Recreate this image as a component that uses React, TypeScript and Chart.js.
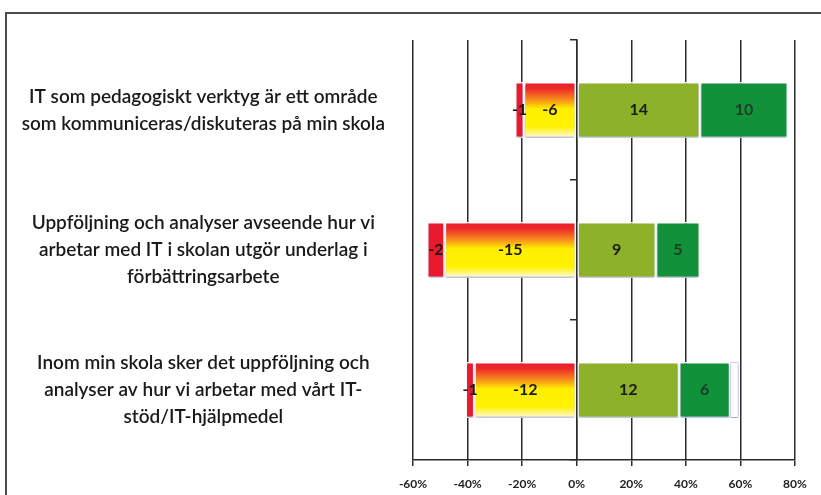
import React, { useEffect, useRef } from "react";
import { Chart, registerables } from "chart.js";
Chart.register(...registerables);

const categories = [
  ["IT som pedagogiskt verktyg är ett område", "som kommuniceras/diskuteras på min skola"],
  ["Uppföljning och analyser avseende hur vi", "arbetar med IT i skolan utgör underlag i", "förbättringsarbete"],
  ["Inom min skola sker det uppföljning och", "analyser av hur vi arbetar med vårt IT-", "stöd/IT-hjälpmedel"],
];
const disagree = [-6, -15, -12];
const stronglyDisagree = [-1, -2, -1];
const agree = [14, 9, 12];
const stronglyAgree = [10, 5, 6];
const dontKnow = [0, 0, 1];
const xTickValues = [-60, -40, -20, 0, 20, 40, 60, 80];

const seriesCounts = [disagree, stronglyDisagree, agree, stronglyAgree, dontKnow];
const totals = categories.map((_, i) =>
  seriesCounts.reduce((s, arr) => s + Math.abs(arr[i]), 0)
);
const toPct = (arr: number[]) => arr.map((v, i) => (v / totals[i]) * 100);

const BAR_PCT = 0.4;
const FONT = "Lato, 'Open Sans', sans-serif";

function yellowGradient(ctx: any) {
  const chart = ctx.chart;
  const ys = chart.scales && chart.scales.y;
  if (!ys || ctx.dataIndex == null || !chart.chartArea) return "#FFF200";
  const yc = ys.getPixelForValue(ctx.dataIndex);
  const half = ((ys.bottom - ys.top) / categories.length) * BAR_PCT / 2;
  const g = chart.ctx.createLinearGradient(0, yc - half, 0, yc + half);
  g.addColorStop(0, "#E8192C");
  g.addColorStop(0.12, "#EC2A26");
  g.addColorStop(0.3, "#F6851E");
  g.addColorStop(0.48, "#FFEF00");
  g.addColorStop(0.8, "#FFF200");
  g.addColorStop(1, "#FFFBEA");
  return g;
}

const labelColors = ["#1a1a1a", "#1a1a1a", "#1a1a1a", "#1e3a22", null];

const shadowPlugin = {
  id: "barShadow",
  beforeDatasetsDraw(chart: any) {
    const c = chart.ctx;
    c.save();
    c.shadowColor = "rgba(70,80,150,0.35)";
    c.shadowOffsetY = 2;
    c.shadowOffsetX = 0;
    c.shadowBlur = 2;
  },
  afterDatasetsDraw(chart: any) {
    chart.ctx.restore();
  },
};

const labelPlugin = {
  id: "segLabels",
  afterDatasetsDraw(chart: any) {
    const c = chart.ctx;
    chart.data.datasets.forEach((ds: any, di: number) => {
      const color = labelColors[di];
      if (!color) return;
      const meta = chart.getDatasetMeta(di);
      meta.data.forEach((el: any, i: number) => {
        const count = seriesCounts[di][i];
        if (!count) return;
        const { x, base, y } = el.getProps(["x", "base", "y"], true);
        c.save();
        c.font = `bold 16px ${FONT}`;
        c.fillStyle = color;
        c.textAlign = "center";
        c.textBaseline = "middle";
        c.fillText(String(count), (x + base) / 2, y);
        c.restore();
      });
    });
  },
};

export default function App() {
  const ref = useRef<HTMLCanvasElement>(null);
  useEffect(() => {
    if (!ref.current) return;
    const common = {
      borderColor: "#ffffff",
      borderWidth: 1.5,
      borderSkipped: false,
      barPercentage: BAR_PCT,
      categoryPercentage: 1,
      stack: "s",
    };
    const chart = new Chart(ref.current, {
      type: "bar",
      data: {
        labels: categories as any,
        datasets: [
          { label: "Instämmer inte", data: toPct(disagree), backgroundColor: yellowGradient, ...common },
          { label: "Instämmer inte alls", data: toPct(stronglyDisagree), backgroundColor: "#E8192C", ...common },
          { label: "Instämmer", data: toPct(agree), backgroundColor: "#8DB22A", ...common },
          { label: "Instämmer helt", data: toPct(stronglyAgree), backgroundColor: "#11923A", ...common },
          { label: "Vet ej", data: toPct(dontKnow), backgroundColor: "#FFFFFF", ...common, borderColor: "#E3C6EA", borderWidth: 1 },
        ] as any,
      },
      options: {
        indexAxis: "y",
        animation: false,
        responsive: true,
        maintainAspectRatio: false,
        layout: { padding: { left: 0, right: 26, top: 40, bottom: 0 } },
        plugins: { legend: { display: false }, tooltip: { enabled: false } },
        scales: {
          x: {
            type: "linear",
            min: -60,
            max: 80,
            stacked: true,
            afterBuildTicks: (s: any) => {
              s.ticks = xTickValues.map((v) => ({ value: v }));
            },
            afterFit: (s: any) => {
              s.height = 35;
            },
            grid: { color: "#2b2b2b", lineWidth: 1.5, tickLength: 6 },
            border: { display: true, color: "#2b2b2b", width: 1.5 },
            ticks: {
              padding: 11,
              color: "#222",
              font: { family: FONT, size: 12, weight: "bold" },
              callback: (v: any) => `${v}%`,
            },
          },
          y: {
            type: "category",
            stacked: true,
            offset: true,
            position: { x: 0 } as any,
            afterFit: (s: any) => {
              s.width = 0;
              s.paddingTop = 0;
              s.paddingBottom = 0;
            },
            grid: { offset: true, drawOnChartArea: false, tickLength: 6, color: "#2b2b2b", lineWidth: 1.5 },
            border: { display: true, color: "#2b2b2b", width: 1.5 },
            ticks: { display: false },
          },
          yLabels: {
            type: "category",
            position: "left",
            offset: true,
            grid: { display: false, offset: true },
            border: { display: false },
            afterFit: (s: any) => {
              s.width = 413;
              s.paddingTop = 0;
              s.paddingBottom = 0;
            },
            ticks: {
              crossAlign: "center",
              padding: 20,
              color: "#1a1a1a",
              font: { family: FONT, size: 19, weight: 600, lineHeight: "27px" } as any,
            },
          },
        } as any,
      },
      plugins: [shadowPlugin, labelPlugin],
    } as any);
    return () => chart.destroy();
  }, []);

  return (
    <div style={{ position: "absolute", left: 0, top: 0, width: 821, height: 495, overflow: "hidden", background: "#fff" }}>
      <div
        style={{
          position: "absolute",
          left: 5,
          top: 12,
          width: 1000,
          height: 1000,
          borderLeft: "2px solid #4a4a4a",
          borderTop: "2px solid #4a4a4a",
        }}
      />
      <canvas ref={ref} style={{ position: "absolute", left: 0, top: 0 }} />
    </div>
  );
}
